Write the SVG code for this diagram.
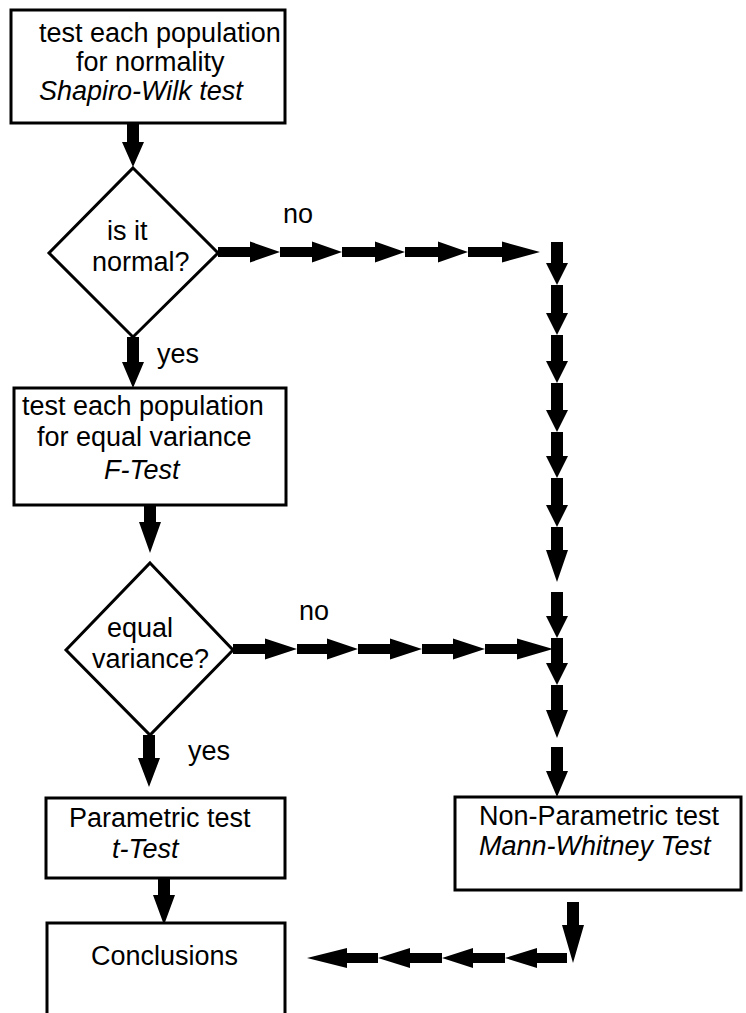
<svg xmlns="http://www.w3.org/2000/svg" width="746" height="1013" viewBox="0 0 746 1013">
<style>
.box{fill:#fff;stroke:#000;stroke-width:3}
.t{font-family:"Liberation Sans",Arial,sans-serif;font-size:27px;fill:#000}
.i{font-style:italic}
.c{fill:#000;stroke:none}
</style>
<rect width="746" height="1013" fill="#fff"/>
<g id="connectors">
<polygon class="c" points="127,123 139,123 139,142 144,142 133,167 122,142 127,142"/>
<polygon class="c" points="127,337 139,337 139,362 144,362 133,388 122,362 127,362"/>
<polygon class="c" points="144,505 156,505 156,522 161,522 150,553 139,522 144,522"/>
<polygon class="c" points="143,735 155,735 155,758 160,758 149,787 138,758 143,758"/>
<polygon class="c" points="158,878 170,878 170,895 175,895 164,925 153,895 158,895"/>
<polygon class="c" points="567,902 579,902 579,925 584,925 573,963 562,925 567,925"/>
<polygon class="c" points="218,247 250,247 250,241.5 280,252 250,262.5 250,257 218,257"/>
<polygon class="c" points="280,247 312,247 312,241.5 342,252 312,262.5 312,257 280,257"/>
<polygon class="c" points="342,247 375,247 375,241.5 405,252 375,262.5 375,257 342,257"/>
<polygon class="c" points="405,247 438,247 438,241.5 468,252 438,262.5 438,257 405,257"/>
<polygon class="c" points="468,247 502,247 502,241.5 540,252 502,262.5 502,257 468,257"/>
<polygon class="c" points="233,644 265,644 265,638.5 297,649 265,659.5 265,654 233,654"/>
<polygon class="c" points="297,644 327,644 327,638.5 358,649 327,659.5 327,654 297,654"/>
<polygon class="c" points="358,644 390,644 390,638.5 422,649 390,659.5 390,654 358,654"/>
<polygon class="c" points="422,644 453,644 453,638.5 485,649 453,659.5 453,654 422,654"/>
<polygon class="c" points="485,644 517,644 517,638.5 553,649 517,659.5 517,654 485,654"/>
<polygon class="c" points="551,242 563,242 563,263 568,263 557,285 546,263 551,263"/>
<polygon class="c" points="551,285 563,285 563,313 568,313 557,335 546,313 551,313"/>
<polygon class="c" points="551,335 563,335 563,361 568,361 557,383 546,361 551,361"/>
<polygon class="c" points="551,383 563,383 563,410 568,410 557,432 546,410 551,410"/>
<polygon class="c" points="551,432 563,432 563,456 568,456 557,478 546,456 551,456"/>
<polygon class="c" points="551,478 563,478 563,505 568,505 557,527 546,505 551,505"/>
<polygon class="c" points="551,527 563,527 563,550 568,550 557,582 546,550 551,550"/>
<polygon class="c" points="551,592 563,592 563,616 568,616 557,638 546,616 551,616"/>
<polygon class="c" points="551,638 563,638 563,663 568,663 557,685 546,663 551,663"/>
<polygon class="c" points="551,685 563,685 563,710 568,710 557,738 546,710 551,710"/>
<polygon class="c" points="551,747 563,747 563,771 568,771 557,797 546,771 551,771"/>
<polygon class="c" points="567,953 537,953 537,948 505,958 537,968 537,963 567,963"/>
<polygon class="c" points="505,953 473,953 473,948 442,958 473,968 473,963 505,963"/>
<polygon class="c" points="442,953 410,953 410,948 378,958 410,968 410,963 442,963"/>
<polygon class="c" points="378,953 347,953 347,948 307,958 347,968 347,963 378,963"/>
<text class="t" x="283" y="223">no</text>
<text class="t" x="299" y="620">no</text>
<text class="t" x="157" y="363">yes</text>
<text class="t" x="188" y="760">yes</text>
</g>
<g id="box-normality">
<rect class="box" x="11" y="10" width="274" height="113"/>
<text class="t" x="39" y="42">test each population</text>
<text class="t" x="76" y="71">for normality</text>
<text class="t i" x="39" y="100">Shapiro-Wilk test</text>
</g>
<g id="dec-normal">
<polygon class="box" points="133,168 218,253 133,337 49,253"/>
<text class="t" x="107" y="240">is it</text>
<text class="t" x="92" y="271">normal?</text>
</g>
<g id="box-variance">
<rect class="box" x="14" y="388" width="272" height="117"/>
<text class="t" x="22" y="415">test each population</text>
<text class="t" x="37" y="446">for equal variance</text>
<text class="t i" x="104" y="479">F-Test</text>
</g>
<g id="dec-variance">
<polygon class="box" points="150,563 233,650 150,735 66,650"/>
<text class="t" x="107" y="637">equal</text>
<text class="t" x="92" y="668">variance?</text>
</g>
<g id="box-parametric">
<rect class="box" x="46" y="798" width="239" height="80"/>
<text class="t" x="69" y="827">Parametric test</text>
<text class="t i" x="112" y="858">t-Test</text>
</g>
<g id="box-nonparametric">
<rect class="box" x="455" y="797" width="286" height="93"/>
<text class="t" x="479" y="825">Non-Parametric test</text>
<text class="t i" x="479" y="855">Mann-Whitney Test</text>
</g>
<g id="box-conclusions">
<rect class="box" x="47" y="923" width="238" height="110"/>
<text class="t" x="91" y="965">Conclusions</text>
</g>
</svg>
